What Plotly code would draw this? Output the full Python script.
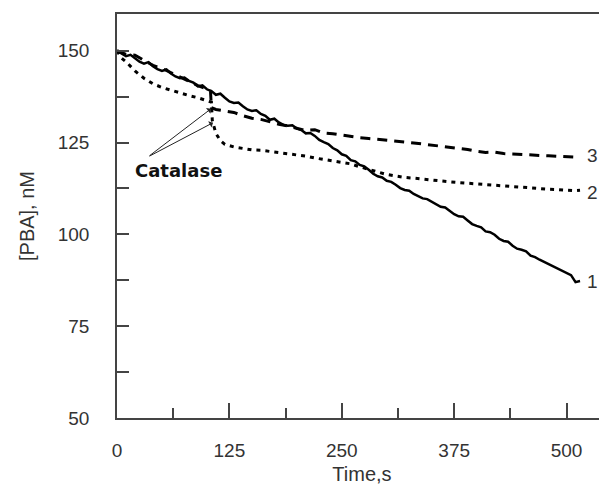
import plotly.graph_objects as go

t1 = list(range(0, 520, 5))
y1 = [150,149.2,148.5,148.9,148,147.0,146.5,146.9,145.8,145.0,144.5,144.9,143.8,143.0,142.5,142.7,141.8,141.3,140.3,140.6,
      139.5,139.0,138,138.3,137.2,136.2,135.8,135.9,134.9,134.0,133.6,133.8,132.8,132.3,131.2,131.5,130.5,129.8,129.6,129.7,
      128.8,128.4,127.5,127.6,126.8,125.7,125.1,124.6,123.5,122.9,121.8,121.4,120.2,119.9,118.9,118.5,117.6,116.5,115.8,115.5,
      114.6,114.3,113.5,112.6,112.1,111.9,111.0,110.3,109.8,109.6,108.9,108.0,107.5,107.3,106.4,105.5,104.9,104.8,103.8,102.8,
      102.3,101.9,100.8,100.6,99.9,98.8,98.2,98.0,96.9,96.1,95.8,95.4,94.2,93.8,93.1,92.5,91.9,91.4,90.6,90.2,
      89.4,88.9,87.0,87.3]

t3 = [0,10,20,30,40,50,60,70,80,90,100,104,105,110,120,130,140,150,160,170,180,190,200,210,220,230,240,250,
      260,270,280,290,300,310,320,330,340,350,360,370,380,390,400,410,420,430,440,450,460,470,480,490,500,510,515]
y3 = [150,149,148.8,147.3,146,145.2,144,143,141.6,140.5,139.6,139,134.5,134,133.6,133.2,132.3,131.6,131.3,130.6,130,
      129.5,128.8,128.3,128.5,127.6,127.4,127,126.8,126.3,126.1,125.9,125.6,125.3,125.2,124.9,124.6,124.3,124,123.8,
      123.4,123.1,122.6,122.3,122.4,122,121.9,121.7,121.6,121.5,121.4,121.2,121.1,121,121.2]

t2 = [0,5,10,20,30,40,50,60,70,80,90,100,105,106,110,115,120,130,140,150,160,170,180,190,200,210,220,230,240,250,
      260,270,280,290,300,310,320,330,340,350,360,370,380,390,400,410,420,430,440,450,460,470,480,490,500,510,515]
y2 = [150,148,147,144.5,142.5,141,140,139.2,138.5,137.8,137.2,136.5,136,131,127.5,125.5,124.5,123.8,123.3,123,122.9,
      122.6,122.3,122,121.6,121.3,120.8,120.4,120,119.6,119.2,118.4,117.6,117,116.3,115.8,115.5,115.3,115,114.8,114.5,
      114.3,114.1,113.9,113.8,113.6,113.4,113.2,113,112.9,112.7,112.5,112.3,112.2,112,111.9,112]

curve_labels = ["1", "2", "3"]
label_y = [87.3, 111.5, 121.6]

x_ticks = [0, 125, 250, 375, 500]
y_ticks = [50, 75, 100, 125, 150]

fig = go.Figure()
fig.add_trace(go.Scatter(x=t1, y=y1, mode="lines", line=dict(color="black", width=2.5)))
fig.add_trace(go.Scatter(x=t2, y=y2, mode="lines", line=dict(color="black", width=3, dash="4px,5px")))
fig.add_trace(go.Scatter(x=t3, y=y3, mode="lines", line=dict(color="black", width=3, dash="10px,7px")))

font = dict(family="Liberation Sans, Arial, sans-serif", size=19, color="#333")
tfont = dict(family="Liberation Sans, Arial, sans-serif", size=20, color="#333")

for lab, ly in zip(curve_labels, label_y):
    fig.add_annotation(x=529, y=ly, text=lab, showarrow=False, xanchor="center", yanchor="middle", font=font)

fig.add_annotation(x=68, y=117.3, text="<b>Catalase</b>", showarrow=False,
                   font=dict(family="DejaVu Sans, sans-serif", size=18, color="#111"))
for hx, hy in [(104.6, 134.2), (106.8, 130.4)]:
    fig.add_annotation(x=hx, y=hy, ax=34.5, ay=121.1, axref="x", ayref="y", xref="x", yref="y",
                       text="", showarrow=True, arrowhead=1, arrowsize=1.2, arrowwidth=1, arrowcolor="#222")

# page body has an 8px margin, so the figure is sized to fit the window without scrollbars
fig.update_layout(
    width=599, height=477,
    margin=dict(l=109, r=0, t=6, b=67, autoexpand=False),
    paper_bgcolor="white", plot_bgcolor="white",
    showlegend=False, font=font,
    xaxis=dict(range=[0, 545], tickvals=x_ticks, ticks="inside", ticklen=15, tickwidth=1.5, tickcolor="#444",
               showline=True, linecolor="#444", linewidth=1.5, mirror=True, showgrid=False, zeroline=False,
               minor=dict(dtick=62.5, tick0=0, ticks="inside", ticklen=10, tickwidth=1.5, tickcolor="#444"),
               ticklabelstandoff=14, automargin=False, tickfont=font,
               title=dict(text="Time,s", font=tfont, standoff=8)),
    yaxis=dict(range=[50, 160], tickvals=y_ticks, ticks="inside", ticklen=12, tickwidth=1.5, tickcolor="#444",
               showline=True, linecolor="#444", linewidth=1.5, showgrid=False, zeroline=False,
               minor=dict(dtick=12.5, tick0=50, ticks="inside", ticklen=12, tickwidth=1.5, tickcolor="#444"),
               ticklabelstandoff=22, automargin=False, tickfont=font,
               title=dict(text="[PBA], nM", font=tfont, standoff=18)),
)

fig.write_html("out.html")
